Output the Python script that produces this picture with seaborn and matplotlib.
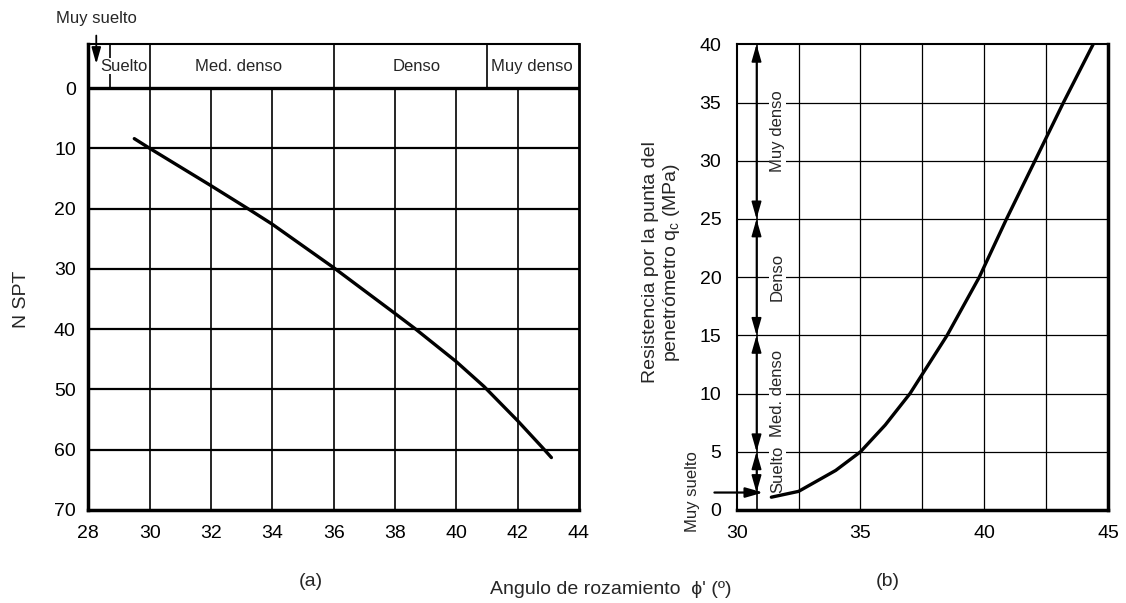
import pandas as pd
import matplotlib
matplotlib.use("Agg")
import matplotlib.pyplot as plt
import seaborn as sns

# (a) N SPT vs friction angle
phi_a = [29.5, 30.0, 32.0, 33.2, 34.0, 36.0, 38.0, 38.65, 40.0, 40.9, 42.0, 42.8, 43.1]
nspt_a = [8.4, 10.0, 16.2, 20.0, 22.6, 29.8, 37.4, 39.9, 45.4, 49.5, 55.2, 59.6, 61.3]

# (b) cone resistance qc vs friction angle
phi_b = [31.4, 32.5, 34.0, 35.0, 36.0, 37.0, 38.5, 39.8, 40.9, 42.05, 43.2, 44.4]
qc_b = [1.1, 1.6, 3.4, 5.0, 7.3, 10.0, 15.0, 20.0, 25.0, 30.0, 35.0, 40.0]

# density classes
header_edges_a = [28.7, 30, 36, 41]
header_labels_a = ["Suelto", "Med. denso", "Denso", "Muy denso"]
header_pos_a = [29.15, 32.9, 38.7, 42.45]
class_bounds_b = [40, 25, 15, 5, 1.5]
class_labels_b = ["Muy denso", "Denso", "Med. denso", "Suelto"]
class_pos_b = [32.5, 20, 10, 3.5]

xticks_a = [28, 30, 32, 34, 36, 38, 40, 42, 44]
yticks_a = [0, 10, 20, 30, 40, 50, 60, 70]
xticks_b = [30, 35, 40, 45]
yticks_b = [0, 5, 10, 15, 20, 25, 30, 35, 40]
xgrid_b = [32.5, 35, 37.5, 40, 42.5]

sns.set_theme(style="white")
plt.rcParams['font.family'] = ['Liberation Sans', 'DejaVu Sans']

fig = plt.figure(figsize=(11.26, 6.03), dpi=100)
W, H = 1126, 603
ax_a = fig.add_axes([88.3 / W, 1 - 510 / H, (579 - 88.3) / W, (510 - 44) / H])
ax_b = fig.add_axes([736.7 / W, 1 - 510 / H, (1108 - 736.7) / W, (510 - 44.3) / H])

k = 'black'
head = '-|>,head_length=0.7,head_width=0.2'
head2 = '<|-|>,head_length=0.7,head_width=0.2'

# ---------- panel (a) ----------
ax = ax_a
top_a = -7.3
ax.set_xlim(28, 44)
ax.set_ylim(70, top_a)
for x in xticks_a[1:-1]:
    ax.vlines(x, 0, 70, color=k, lw=1.2, zorder=1)
for y in yticks_a[1:-1]:
    ax.hlines(y, 28, 44, color=k, lw=1.6, zorder=1)
ax.axhline(0, color=k, lw=2.4, zorder=2)
ax.vlines(header_edges_a, top_a, 0, color=k, lw=1.2, zorder=1)
for lab, x in zip(header_labels_a, header_pos_a):
    ax.text(x, -3.6, lab, ha='center', va='center', fontsize=12, zorder=3,
            bbox=dict(facecolor='white', edgecolor='none', pad=0.5))

df_a = pd.DataFrame({'phi': phi_a, 'N': nspt_a})
sns.lineplot(data=df_a, x='phi', y='N', ax=ax, color=k, lw=2.4, sort=False,
             estimator=None, zorder=4)

ax.text(28.25, -11.6, "Muy suelto", ha='center', va='center', fontsize=12, clip_on=False)
ax.annotate("", xy=(28.26, -4.0), xytext=(28.26, -8.7), annotation_clip=False,
            arrowprops=dict(arrowstyle=head, mutation_scale=14, color=k, lw=1.3,
                            shrinkA=0, shrinkB=0))

ax.set_xticks(xticks_a)
ax.set_yticks(yticks_a)
ax.tick_params(length=0, labelsize=14, colors=k)
ax.tick_params(axis='y', pad=9)
ax.tick_params(axis='x', pad=11)
ax.set_xlabel("")
ax.set_ylabel("")
for side, lw in [('left', 2.5), ('bottom', 2.5), ('right', 2.0), ('top', 1.5)]:
    ax.spines[side].set_linewidth(lw)
    ax.spines[side].set_color(k)

# ---------- panel (b) ----------
ax = ax_b
ax.set_xlim(30, 45)
ax.set_ylim(0, 40)
ax.vlines(xgrid_b, 0, 40, color=k, lw=0.9, zorder=1)
ax.hlines(yticks_b[1:-1], 30, 45, color=k, lw=0.9, zorder=1)

df_b = pd.DataFrame({'phi': phi_b, 'qc': qc_b})
sns.lineplot(data=df_b, x='phi', y='qc', ax=ax, color=k, lw=2.4, sort=False,
             estimator=None, zorder=4)

xa = 30.8
ax.vlines(xa, 0, 40, color=k, lw=1.2, zorder=3)
for y0, y1 in zip(class_bounds_b[:-1], class_bounds_b[1:]):
    ax.annotate("", xy=(xa, y1), xytext=(xa, y0), annotation_clip=False,
                arrowprops=dict(arrowstyle=head2, mutation_scale=15, color=k, lw=1.2,
                                shrinkA=0, shrinkB=0))
for lab, y in zip(class_labels_b, class_pos_b):
    ax.text(31.65, y, lab, rotation=90, ha='center', va='center', fontsize=12,
            zorder=3, bbox=dict(facecolor='white', edgecolor='none', pad=1.0))

ax.annotate("", xy=(31.07, 1.5), xytext=(29.1, 1.5), annotation_clip=False,
            arrowprops=dict(arrowstyle=head, mutation_scale=15, color=k, lw=1.6,
                            shrinkA=0, shrinkB=0))
ax.text(28.2, 1.6, "Muy suelto", rotation=90, ha='center', va='center',
        fontsize=12, clip_on=False)

ax.set_xticks(xticks_b)
ax.set_yticks(yticks_b)
ax.tick_params(length=0, labelsize=14, colors=k)
ax.tick_params(axis='y', pad=11)
ax.tick_params(axis='x', pad=11)
ax.set_xlabel("")
ax.set_ylabel("")
for side, lw in [('left', 1.5), ('bottom', 2.5), ('right', 2.5), ('top', 1.5)]:
    ax.spines[side].set_linewidth(lw)
    ax.spines[side].set_color(k)

# ---------- figure texts ----------
fig.text(22 / W, 1 - 299 / H, "N SPT", rotation=90, ha='center', va='center', fontsize=14)
fig.text(662 / W, 1 - 262 / H, "Resistencia por la punta del\npenetrómetro q$_\\mathregular{c}$ (MPa)",
         rotation=90, ha='center', va='center', fontsize=14, linespacing=1.1)
fig.text(311 / W, 1 - 582 / H, "(a)", ha='center', va='center', fontsize=14)
fig.text(888 / W, 1 - 582 / H, "(b)", ha='center', va='center', fontsize=14)
fig.text(611 / W, 1 - 590 / H, "Angulo de rozamiento  \u03d5' (º)", ha='center', va='center',
         fontsize=14)

fig.savefig("out.png", dpi=100)
